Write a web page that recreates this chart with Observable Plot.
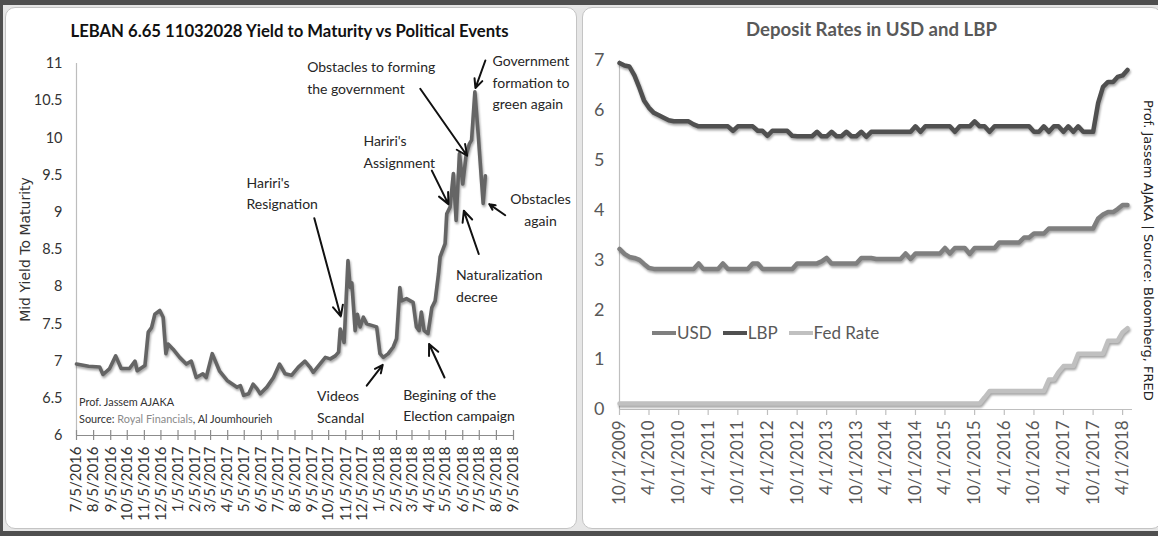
<!DOCTYPE html>
<html>
<head>
<meta charset="utf-8">
<script src="https://cdn.jsdelivr.net/npm/d3@7"></script>
<script src="https://cdn.jsdelivr.net/npm/@observablehq/plot@0.6"></script>
<style>
html, body { margin: 0; padding: 0; background: #fff; }
#frame { position: relative; width: 1158px; height: 536px; background: #e6e6e6; overflow: hidden; font-family: Lato, sans-serif; }
.bar { position: absolute; background: #4f4f4f; }
.panel { position: absolute; background: #fff; border: 1px solid #c4c4c4; border-radius: 10px; box-sizing: border-box; }
.abs { position: absolute; }
.plot { position: absolute; top: 7px; }
.title { position: absolute; text-align: center; font-weight: bold; white-space: nowrap; }
.legend { position: absolute; font-size: 17px; color: #595959; display: flex; align-items: center; white-space: nowrap; }
.legend .sw { display: inline-block; width: 24px; height: 4px; margin-right: 1px; }
.legend .item { display: flex; align-items: center; margin-right: 11px; }
svg g[aria-label="line"] path { filter: drop-shadow(1.5px 2px 1.2px rgba(0,0,0,0.35)); }
</style>
</head>
<body>
<div id="frame">
  <div class="panel" style="left:5px; top:7px; width:572px; height:522px;"></div>
  <div class="panel" style="left:582px; top:7px; width:580px; height:522px;"></div>
  <div class="bar" style="left:0; top:0; width:1158px; height:5px;"></div>
  <div class="bar" style="left:0; top:531px; width:1158px; height:5px;"></div>
  <div class="bar" style="left:0; top:0; width:3px; height:536px;"></div>
  <div id="leftplot" class="plot" style="left:5px;"></div>
  <div id="rightplot" class="plot" style="left:585px;"></div>
  <div class="title" style="left:0; width:579px; top:21px; font-size:16.7px; line-height:20px; color:#111;">LEBAN 6.65 11032028 Yield to Maturity vs Political Events</div>
  <div class="title" style="left:585px; width:573px; top:17px; font-size:18.6px; line-height:24px; color:#595959;">Deposit Rates in USD and LBP</div>
  <div class="abs" style="left:79px; top:393px; font-size:10.9px; line-height:17.3px; color:#333; white-space:nowrap;">Prof. Jassem AJAKA<br>Source: <span style="color:#8a8a8a">Royal Financials</span>, Al Joumhourieh</div>
  <div class="legend" style="left:652px; top:322px;">
    <span class="item"><span class="sw" style="background:#7f7f7f"></span>USD</span>
    <span class="item"><span class="sw" style="background:#505050"></span>LBP</span>
    <span class="item"><span class="sw" style="background:#c0c0c0"></span>Fed Rate</span>
  </div>
  <div class="abs" style="left:1141px; top:100px; writing-mode:vertical-rl; font-family:'DejaVu Sans'; font-size:13px; color:#222; white-space:nowrap;">Prof. Jassem AJAKA | Source: Bloomberg, FRED</div>
</div>
<script>
// ---------- Left chart data: LEBAN 6.65 11032028 yield to maturity ----------
const yieldDates = ["2016-07-05","2016-07-27","2016-08-16","2016-08-22","2016-09-03","2016-09-14","2016-09-24","2016-10-09","2016-10-19","2016-10-23",
"2016-11-06","2016-11-12","2016-11-18","2016-11-24","2016-12-03","2016-12-09","2016-12-14","2016-12-18","2016-12-27","2017-01-08",
"2017-01-20","2017-01-29","2017-02-07","2017-02-19","2017-02-25","2017-03-08","2017-03-21","2017-04-04","2017-04-22","2017-04-28",
"2017-05-04","2017-05-13","2017-05-21","2017-05-28","2017-06-03","2017-06-15","2017-06-27","2017-07-08","2017-07-18","2017-07-30",
"2017-08-11","2017-08-23","2017-09-01","2017-09-07","2017-09-19","2017-09-29","2017-10-08","2017-10-17","2017-10-23","2017-10-26",
"2017-11-02","2017-11-09","2017-11-13","2017-11-16","2017-11-22","2017-11-26","2017-12-01","2017-12-07","2017-12-13","2017-12-22",
"2017-12-31","2018-01-06","2018-01-12","2018-01-21","2018-01-30","2018-02-05","2018-02-11","2018-02-14","2018-02-23","2018-03-07",
"2018-03-13","2018-03-18","2018-03-22","2018-03-27","2018-04-03","2018-04-10","2018-04-16","2018-04-22","2018-04-25","2018-05-04",
"2018-05-07","2018-05-13","2018-05-19","2018-05-24","2018-05-30","2018-06-05","2018-06-11","2018-06-17","2018-06-21","2018-06-27",
"2018-07-03","2018-07-09","2018-07-12","2018-07-16"];
const yieldValues = [6.96,6.93,6.92,6.82,6.90,7.07,6.90,6.90,7.00,6.87,
6.94,7.39,7.45,7.63,7.68,7.59,7.10,7.23,7.16,7.05,
6.96,7.00,6.78,6.83,6.78,7.10,6.87,6.74,6.65,6.67,
6.54,6.56,6.69,6.63,6.56,6.65,6.78,6.96,6.83,6.81,
6.92,7.00,6.92,6.85,6.96,7.05,7.03,7.07,7.12,7.43,
7.25,8.35,7.99,8.05,7.41,7.63,7.46,7.59,7.50,7.48,
7.46,7.10,7.05,7.10,7.19,7.30,7.99,7.81,7.84,7.79,
7.46,7.41,7.66,7.41,7.37,7.72,7.81,8.17,8.40,8.58,
8.98,9.07,9.52,8.89,9.79,9.38,9.76,9.92,9.97,10.62,
10.05,9.43,9.12,9.49];
const leftXTicks = ["2016-07-05","2016-08-05","2016-09-05","2016-10-05","2016-11-05","2016-12-05","2017-01-05","2017-02-05","2017-03-05",
"2017-04-05","2017-05-05","2017-06-05","2017-07-05","2017-08-05","2017-09-05","2017-10-05","2017-11-05","2017-12-05",
"2018-01-05","2018-02-05","2018-03-05","2018-04-05","2018-05-05","2018-06-05","2018-07-05","2018-08-05","2018-09-05"];
const leftYTicks = [6, 6.5, 7, 7.5, 8, 8.5, 9, 9.5, 10, 10.5, 11];
const leftYLabel = "Mid Yield To Maturity";
// political events: label anchor (date, yield) and arrow from/to (date, yield)
const eventLabels = ["Hariri's\nResignation","Videos\nScandal","Begining of the\nElection campaign","Naturalization\ndecree",
"Hariri's\nAssignment","Obstacles to forming\nthe government","Government\nformation to\ngreen again","Obstacles\nagain"];
const eventTextDate = ["2017-05-09","2017-09-14","2018-02-17","2018-05-24","2017-12-07","2017-08-27","2018-07-29","2018-10-24"];
const eventTextValue = [9.28, 6.41, 6.43, 8.04, 9.84, 10.83, 10.77, 9.06];
const eventTextAlign = ["start","start","start","start","start","start","start","middle"];
const eventFromDate = ["2017-09-09","2017-12-13","2018-05-03","2018-07-04","2018-04-10","2018-03-20","2018-07-16","2018-08-21"];
const eventFromValue = [8.92, 6.67, 6.78, 8.44, 9.56, 10.66, 11.04, 8.96];
const eventToDate = ["2017-10-27","2018-01-11","2018-04-05","2018-06-07","2018-05-10","2018-06-13","2018-06-28","2018-07-23"];
const eventToValue = [7.60, 6.95, 7.23, 9.02, 9.11, 9.76, 10.67, 9.11];

// ---------- Right chart data: monthly deposit rates, Oct 2009 - May 2018 ----------
const rateStart = "2009-10-01";
const usdRates = [3.22,3.12,3.06,3.04,3.00,2.92,2.84,2.82,2.82,2.82,
2.82,2.82,2.82,2.82,2.82,2.82,2.93,2.82,2.82,2.82,
2.82,2.93,2.82,2.82,2.82,2.82,2.82,2.93,2.93,2.82,
2.82,2.82,2.82,2.82,2.82,2.82,2.93,2.93,2.93,2.93,
2.93,2.97,3.04,2.93,2.93,2.93,2.93,2.93,2.93,3.04,
3.04,3.04,3.02,3.02,3.02,3.02,3.02,3.02,3.13,3.02,
3.13,3.13,3.13,3.13,3.13,3.13,3.24,3.13,3.24,3.24,
3.24,3.12,3.24,3.24,3.24,3.24,3.24,3.35,3.35,3.35,
3.35,3.35,3.45,3.45,3.53,3.53,3.53,3.63,3.63,3.63,
3.63,3.63,3.63,3.63,3.63,3.63,3.63,3.83,3.91,3.96,
3.96,4.02,4.10,4.10];
const lbpRates = [6.95,6.90,6.88,6.70,6.45,6.20,6.05,5.95,5.90,5.85,
5.80,5.78,5.78,5.78,5.78,5.72,5.68,5.68,5.68,5.68,
5.68,5.68,5.68,5.59,5.68,5.68,5.68,5.68,5.59,5.59,
5.49,5.59,5.59,5.59,5.59,5.49,5.48,5.48,5.48,5.48,
5.57,5.48,5.48,5.57,5.48,5.48,5.57,5.48,5.48,5.57,
5.47,5.57,5.57,5.57,5.57,5.57,5.57,5.57,5.57,5.57,
5.68,5.57,5.68,5.68,5.68,5.68,5.68,5.68,5.57,5.68,
5.68,5.68,5.78,5.68,5.68,5.57,5.68,5.68,5.68,5.68,
5.68,5.68,5.68,5.68,5.57,5.57,5.68,5.57,5.68,5.68,
5.57,5.68,5.57,5.68,5.57,5.57,5.57,6.15,6.47,6.57,
6.57,6.67,6.70,6.81];
const fedRates = [0.12,0.12,0.12,0.12,0.12,0.12,0.12,0.12,0.12,0.12,
0.12,0.12,0.12,0.12,0.12,0.12,0.12,0.12,0.12,0.12,
0.12,0.12,0.12,0.12,0.12,0.12,0.12,0.12,0.12,0.12,
0.12,0.12,0.12,0.12,0.12,0.12,0.12,0.12,0.12,0.12,
0.12,0.12,0.12,0.12,0.12,0.12,0.12,0.12,0.12,0.12,
0.12,0.12,0.12,0.12,0.12,0.12,0.12,0.12,0.12,0.12,
0.12,0.12,0.12,0.12,0.12,0.12,0.12,0.12,0.12,0.12,
0.12,0.12,0.12,0.12,0.24,0.37,0.37,0.37,0.37,0.37,
0.37,0.37,0.37,0.37,0.37,0.37,0.37,0.60,0.60,0.75,
0.87,0.87,0.87,1.12,1.12,1.12,1.12,1.12,1.12,1.38,
1.38,1.38,1.55,1.63];
const rightXTicks = ["2009-10-01","2010-04-01","2010-10-01","2011-04-01","2011-10-01","2012-04-01","2012-10-01","2013-04-01","2013-10-01",
"2014-04-01","2014-10-01","2015-04-01","2015-10-01","2016-04-01","2016-10-01","2017-04-01","2017-10-01","2018-04-01"];
const rightYTicks = [0, 1, 2, 3, 4, 5, 6, 7];
const seriesNames = ["USD", "LBP", "Fed Rate"];
const seriesColors = ["#7f7f7f", "#505050", "#c0c0c0"];

// ---------- build ----------
const fmt = d => `${d.getUTCMonth() + 1}/${d.getUTCDate()}/${d.getUTCFullYear()}`;
const num = d => `${d}`;
const leftRows = yieldDates.map((d, i) => ({date: new Date(d), value: yieldValues[i]}));
const events = eventLabels.map((t, i) => ({
  label: t, align: eventTextAlign[i],
  tx: new Date(eventTextDate[i]), ty: eventTextValue[i],
  x1: new Date(eventFromDate[i]), y1: eventFromValue[i],
  x2: new Date(eventToDate[i]), y2: eventToValue[i]
}));
const lx = leftXTicks.map(d => new Date(d));
const annFont = {fontFamily: "Lato, sans-serif", fontSize: 14, lineHeight: 1.55, lineAnchor: "middle", fill: "#262626"};

const left = Plot.plot({
  width: 570, height: 520,
  marginLeft: 71, marginRight: 62, marginTop: 56, marginBottom: 92,
  style: {background: "transparent", overflow: "visible", fontFamily: "Lato, sans-serif"},
  x: {type: "utc", domain: [lx[0], lx[lx.length - 1]]},
  y: {domain: [6, 11]},
  marks: [
    Plot.ruleX([lx[0]], {stroke: "#bdbdbd", strokeWidth: 1.2}),
    Plot.ruleY([6], {stroke: "#8c8c8c", strokeWidth: 1.2}),
    Plot.tickX(lx, {x: d => d, stroke: "#8c8c8c", strokeWidth: 1.2, insetTop: 367, insetBottom: -5}),
    Plot.axisY({ticks: leftYTicks, tickFormat: num, tickSize: 0, tickPadding: 14, fontSize: 14.5, label: null, color: "#333"}),
    Plot.axisX({ticks: lx, tickFormat: fmt, tickRotate: -90, tickSize: 0, tickPadding: 11, fontSize: 15, label: null, color: "#333"}),
    Plot.text([leftYLabel], {text: d => d, frameAnchor: "left", textAnchor: "middle", rotate: -90, dx: -51, fontFamily: "DejaVu Sans", fontSize: 14, fill: "#333"}),
    Plot.lineY(leftRows, {x: "date", y: "value", stroke: "#656565", strokeWidth: 3.6, strokeLinejoin: "round"}),
    Plot.arrow(events, {x1: "x1", y1: "y1", x2: "x2", y2: "y2", stroke: "#111", strokeWidth: 2, headLength: 9, headAngle: 50}),
    Plot.text(events.filter(e => e.align === "start"), {x: "tx", y: "ty", text: "label", textAnchor: "start", ...annFont}),
    Plot.text(events.filter(e => e.align === "middle"), {x: "tx", y: "ty", text: "label", textAnchor: "middle", ...annFont})
  ]
});
document.getElementById("leftplot").append(left);

const rs = new Date(rateStart);
const rateRows = [];
[usdRates, lbpRates, fedRates].forEach((arr, k) => arr.forEach((v, i) => rateRows.push({series: seriesNames[k], date: d3.utcMonth.offset(rs, i), value: v})));
const rx = rightXTicks.map(d => new Date(d));
const right = Plot.plot({
  width: 570, height: 520,
  marginLeft: 34, marginRight: 23, marginTop: 53, marginBottom: 118,
  style: {background: "transparent", overflow: "visible", fontFamily: "Lato, sans-serif"},
  x: {type: "utc", domain: [rs, d3.utcMonth.offset(rs, usdRates.length)]},
  y: {domain: [0, 7]},
  color: {domain: seriesNames, range: seriesColors},
  marks: [
    Plot.ruleX([rs], {stroke: "#bfbfbf", strokeWidth: 1.2}),
    Plot.ruleY([0], {stroke: "#bfbfbf", strokeWidth: 1.2}),
    Plot.tickX(rx, {x: d => d, stroke: "#bfbfbf", strokeWidth: 1.2, insetTop: 349, insetBottom: -6}),
    Plot.axisY({ticks: rightYTicks, tickFormat: num, tickSize: 0, tickPadding: 15, fontSize: 18, label: null, color: "#595959"}),
    Plot.axisX({ticks: rx, tickFormat: fmt, tickRotate: -90, tickSize: 0, tickPadding: 11, fontSize: 17, label: null, color: "#595959"}),
    Plot.lineY(rateRows.filter(r => r.series === "Fed Rate"), {x: "date", y: "value", stroke: "series", strokeWidth: 4.5}),
    Plot.lineY(rateRows.filter(r => r.series === "USD"), {x: "date", y: "value", stroke: "series", strokeWidth: 4.5}),
    Plot.lineY(rateRows.filter(r => r.series === "LBP"), {x: "date", y: "value", stroke: "series", strokeWidth: 4.5})
  ]
});
document.getElementById("rightplot").append(right);
</script>
</body>
</html>
